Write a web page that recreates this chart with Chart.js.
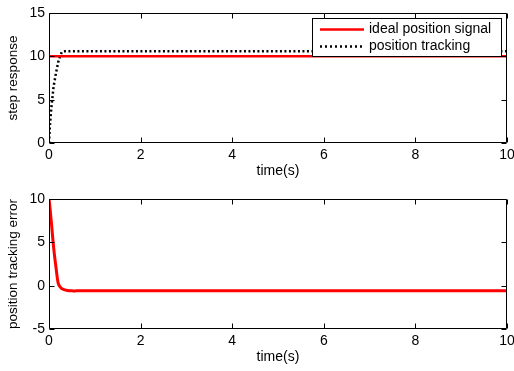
<!DOCTYPE html>
<html>
<head>
<meta charset="utf-8">
<script src="https://cdn.jsdelivr.net/npm/chart.js@4/dist/chart.umd.min.js"></script>
<style>
  body { margin: 0; background: #fff; width: 514px; height: 371px; overflow: hidden; position: relative; }
  .box { position: absolute; left: 0; width: 514px; }
</style>
</head>
<body>
<div class="box" style="top:0;height:185px"><canvas id="top" width="514" height="185"></canvas></div>
<div class="box" style="top:185px;height:186px"><canvas id="bottom" width="514" height="186"></canvas></div>
<script>
// values
const timeTrack = [0, 0.02, 0.05, 0.07, 0.1, 0.15, 0.2, 0.24, 0.28, 0.35, 0.5, 1, 2, 4, 6, 8, 10];
const tracking  = [0, 2, 4, 5, 6.5, 8, 9.3, 10, 10.5, 10.6, 10.6, 10.6, 10.6, 10.6, 10.6, 10.6, 10.6];
const timeIdeal = [0, 10];
const ideal     = [10, 10];
const timeErr   = [0, 0.03, 0.06, 0.09, 0.12, 0.15, 0.2, 0.25, 0.3, 0.4, 0.5, 0.6, 1, 2, 4, 6, 8, 10];
const trackErr  = [10, 8.5, 6.8, 5, 3.5, 2.2, 0.3, -0.2, -0.4, -0.55, -0.6, -0.6, -0.6, -0.6, -0.6, -0.6, -0.6, -0.6];
const xTicks = [0, 2, 4, 6, 8, 10];
const legendNames = ['ideal position signal', 'position tracking'];

const FONT = 'Liberation Sans, Arial, sans-serif';
Chart.defaults.font.family = FONT;
Chart.defaults.font.size = 14;
Chart.defaults.color = '#000';

const pts = (xs, ys) => xs.map((x, i) => ({ x: x, y: ys[i] }));

// MATLAB style box with inward ticks on all sides
const frame = {
  id: 'frame',
  afterDatasetsDraw(chart) {
    const { ctx, chartArea: a, scales: { x, y } } = chart;
    const L = Math.round(a.left) + 0.5, R = Math.round(a.right) - 0.5;
    const T = Math.round(a.top) + 0.5, B = Math.round(a.bottom) - 0.5;
    ctx.save();
    ctx.strokeStyle = '#000';
    ctx.lineWidth = 1;
    ctx.beginPath();
    ctx.rect(L, T, R - L, B - T);
    x.ticks.forEach(t => {
      const p = Math.round(x.getPixelForValue(t.value)) + 0.5;
      ctx.moveTo(p, B); ctx.lineTo(p, B - 5);
      ctx.moveTo(p, T); ctx.lineTo(p, T + 5);
    });
    y.ticks.forEach(t => {
      const p = Math.round(y.getPixelForValue(t.value)) + 0.5;
      ctx.moveTo(L, p); ctx.lineTo(L + 5, p);
      ctx.moveTo(R, p); ctx.lineTo(R - 5, p);
    });
    ctx.stroke();
    ctx.restore();
  }
};

const boxLegend = {
  id: 'boxLegend',
  afterDraw(chart) {
    if (!chart.options.plugins.boxLegend) return;
    const ctx = chart.ctx;
    ctx.save();
    ctx.fillStyle = '#fff';
    ctx.fillRect(312, 18, 190, 39);
    ctx.strokeStyle = '#000';
    ctx.lineWidth = 1;
    ctx.strokeRect(312.5, 18.5, 189, 38);
    ctx.lineWidth = 2.5;
    ctx.strokeStyle = '#ff0000';
    ctx.beginPath(); ctx.moveTo(320, 29.5); ctx.lineTo(364, 29.5); ctx.stroke();
    ctx.strokeStyle = '#000';
    ctx.setLineDash([2, 3]);
    ctx.beginPath(); ctx.moveTo(320, 46.5); ctx.lineTo(364, 46.5); ctx.stroke();
    ctx.setLineDash([]);
    ctx.fillStyle = '#000';
    ctx.font = '14px ' + FONT;
    ctx.textBaseline = 'middle';
    ctx.fillText(legendNames[0], 369, 29);
    ctx.fillText(legendNames[1], 369, 46);
    ctx.restore();
  }
};

function axes(yMin, yMax, yTitle) {
  return {
    x: {
      type: 'linear', min: 0, max: 10,
      afterBuildTicks: s => { s.ticks = xTicks.map(v => ({ value: v })); },
      afterFit: s => { s.height = 42; s.paddingLeft = 0; s.paddingRight = 0; },
      grid: { display: false, drawTicks: false },
      border: { display: false },
      ticks: { padding: 4, maxRotation: 0 },
      title: { display: true, text: 'time(s)', padding: { top: 0, bottom: 5 } }
    },
    y: {
      min: yMin, max: yMax,
      afterFit: s => { s.width = 49; },
      grid: { display: false, drawTicks: false },
      border: { display: false },
      ticks: { stepSize: 5, padding: 4 },
      title: { display: true, text: yTitle, padding: { top: 5, bottom: 0 }, font: { size: 13.5 } }
    }
  };
}

new Chart(document.getElementById('top'), {
  type: 'line',
  data: {
    datasets: [
      { data: pts(timeIdeal, ideal), borderColor: '#ff0000', borderWidth: 2.5, pointRadius: 0, tension: 0 },
      { data: pts(timeTrack, tracking), borderColor: '#000', borderWidth: 2.5, borderDash: [2, 2.5], pointRadius: 0, tension: 0 }
    ]
  },
  options: {
    responsive: false, animation: false,
    layout: { padding: { top: 13, right: 7, left: 0, bottom: 0 } },
    plugins: { legend: { display: false }, tooltip: { enabled: false }, boxLegend: true },
    scales: axes(0, 15, 'step response')
  },
  plugins: [frame, boxLegend]
});

new Chart(document.getElementById('bottom'), {
  type: 'line',
  data: {
    datasets: [
      { data: pts(timeErr, trackErr), borderColor: '#ff0000', borderWidth: 3, pointRadius: 0, tension: 0.3 }
    ]
  },
  options: {
    responsive: false, animation: false,
    layout: { padding: { top: 14, right: 7, left: 0, bottom: 0 } },
    plugins: { legend: { display: false }, tooltip: { enabled: false }, boxLegend: false },
    scales: axes(-5, 10, 'position tracking error')
  },
  plugins: [frame]
});
</script>
</body>
</html>
